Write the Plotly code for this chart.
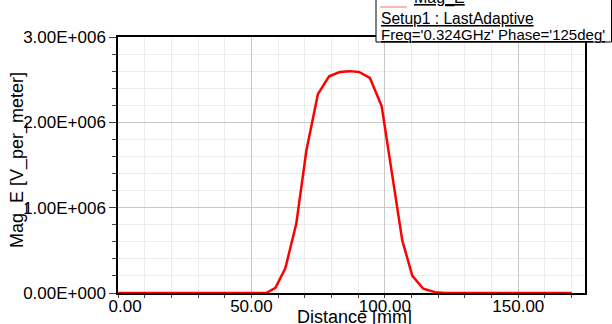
import plotly.graph_objects as go

# Data
distance_mm = [0.0, 55.5, 59.0, 62.7, 66.8, 70.6, 74.9, 79.1, 83.1, 86.8, 90.3,
               94.4, 98.8, 106.5, 110.3, 114.4, 118.8, 122.7, 170.0]
mag_e = [0.0, 0.0, 0.06e6, 0.29e6, 0.81e6, 1.67e6, 2.33e6, 2.54e6, 2.59e6, 2.60e6,
         2.59e6, 2.52e6, 2.19e6, 0.62e6, 0.20e6, 0.05e6, 0.01e6, 0.0, 0.0]

x_tickvals = [0, 50, 100, 150]
x_ticktext = ["\u00a0\u00a0\u00a00.00", "50.00", "100.00", "150.00"]
y_tickvals = [0, 1e6, 2e6, 3e6]
y_ticktext = ["0.00E+000", "1.00E+006", "2.00E+006", "3.00E+006"]

legend_name = "Mag_E"
legend_setup = "Setup1 : LastAdaptive"
legend_freq = "Freq='0.324GHz' Phase='125deg'"
x_title = "Distance [mm]"
y_title = "Mag_E [V_per_meter]"

FONT = "Liberation Sans, Arial, sans-serif"

W, H = 612, 324
L, R, T, B = 118, 27, 37, 31
pw, ph = W - L - R, H - T - B

def px_x(p):
    return (p - L) / pw

def px_y(p):
    return (H - B - p) / ph

fig = go.Figure()
fig.add_trace(go.Scatter(x=distance_mm, y=mag_e, mode="lines",
                         line=dict(color="#ff0000", width=2.5),
                         name=legend_name, showlegend=False))

fig.update_layout(
    width=W, height=H, autosize=False,
    margin=dict(l=L, r=R, t=T, b=B, pad=0, autoexpand=False),
    paper_bgcolor="white", plot_bgcolor="white",
    font=dict(family=FONT, size=17, color="black"),
    showlegend=False,
)

fig.update_xaxes(
    range=[0, 175], tickvals=x_tickvals, ticktext=x_ticktext,
    automargin=False,
    showgrid=True, gridcolor="#c8c8c8", gridwidth=1,
    ticks="outside", ticklen=3, tickcolor="#404040",
    ticklabelstandoff=-6,
    showline=True, linecolor="black", linewidth=1.5, mirror=True,
    zeroline=False,
    tickfont=dict(family=FONT, size=17),
    minor=dict(dtick=10, tick0=0, showgrid=True, gridcolor="#ececec",
               ticks="outside", ticklen=3, tickcolor="#404040"),
)
fig.update_yaxes(
    range=[0, 3e6], tickvals=y_tickvals, ticktext=y_ticktext,
    automargin=False,
    showgrid=True, gridcolor="#c8c8c8", gridwidth=1,
    ticks="outside", ticklen=7, tickcolor="#404040",
    showline=True, linecolor="black", linewidth=1.5, mirror=True,
    zeroline=False,
    tickfont=dict(family=FONT, size=17),
    minor=dict(dtick=0.2e6, tick0=0, showgrid=True, gridcolor="#ececec",
               ticks="outside", ticklen=4, tickcolor="#404040"),
)

annotations = [
    dict(text=x_title, xref="paper", yref="paper", x=px_x(354), y=px_y(317),
         xanchor="center", yanchor="middle", showarrow=False,
         font=dict(family=FONT, size=18)),
    dict(text=y_title, xref="paper", yref="paper", x=px_x(17), y=px_y(160),
         xanchor="center", yanchor="middle", showarrow=False, textangle=-90,
         font=dict(family=FONT, size=18)),
    dict(text="<u>" + legend_name + "</u>", xref="paper", yref="paper",
         x=px_x(412), y=px_y(9), xanchor="left", yanchor="bottom",
         showarrow=False, font=dict(family=FONT, size=16)),
    dict(text="<u>" + legend_setup + "</u>", xref="paper", yref="paper",
         x=px_x(379), y=px_y(18), xanchor="left", yanchor="middle",
         showarrow=False, font=dict(family=FONT, size=15.6)),
    dict(text="<u>" + legend_freq + "</u>", xref="paper", yref="paper",
         x=px_x(379), y=px_y(34), xanchor="left", yanchor="middle",
         showarrow=False, font=dict(family=FONT, size=15)),
]
fig.update_layout(annotations=annotations)

shapes = [
    dict(type="rect", xref="paper", yref="paper",
         x0=px_x(376), x1=px_x(611.5), y0=px_y(42), y1=px_y(-2),
         fillcolor="white", line=dict(color="black", width=1), layer="above"),
    dict(type="line", xref="paper", yref="paper",
         x0=px_x(380), x1=px_x(407), y0=px_y(7), y1=px_y(7),
         line=dict(color="#f4a0a0", width=1.5), layer="above"),
]
fig.update_layout(shapes=shapes)

fig.write_html("out.html")
